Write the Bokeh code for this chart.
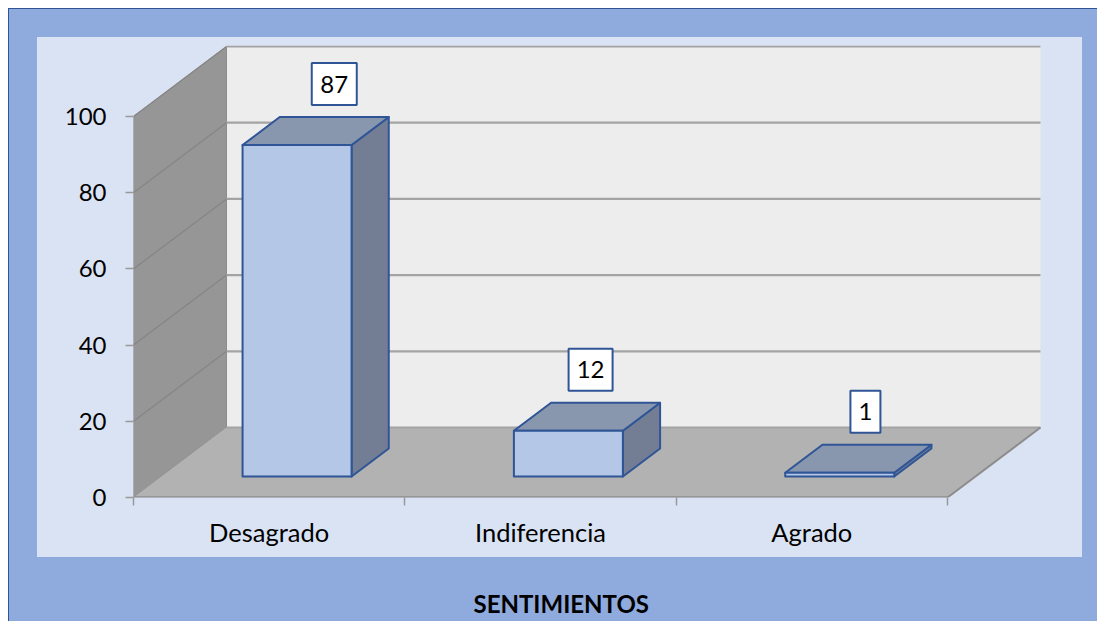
from bokeh.plotting import figure
from bokeh.models import LinearAxis, FixedTicker, Range1d, Title
from bokeh.core.properties import value
from bokeh.embed import file_html
from bokeh.resources import INLINE

categorias = ["Desagrado", "Indiferencia", "Agrado"]
valores = [87, 12, 1]
etiquetas = ["87", "12", "1"]
marcas_y = [0, 20, 40, 60, 80, 100]
titulo_eje = "SENTIMIENTOS"

FONT = "Lato"
PX_X, PX_Y = 271.33, 3.81          # px per category / per value unit
DX, DY = 93 / PX_X, 70 / PX_Y      # full floor depth in data units
GAP, DEPTH = 0.30, 0.40            # share of the floor depth before / inside the bar
BAR_W = 109 / PX_X
LBL_DX = [0, -15 / PX_X, -11.5 / PX_X]
LBL_DY = 33 / PX_Y
LBL_W = [45, 44, 30]


def capa(color, x, y, w, h):
    return f"linear-gradient({color},{color}) {x}px {y}px / {w}px {h}px no-repeat"


fondo = ", ".join([capa("#DAE3F3", 37, 37, 1045, 520),
                   capa("#8FAADC", 9, 9, 1088, 612),
                   capa("#2F5597", 8, 8, 1089, 613)]) + ", white"

p = figure(width=1097, height=621, frame_width=909, frame_height=452,
           output_backend="svg", toolbar_location=None,
           x_range=Range1d(0, 909 / PX_X), y_range=Range1d(0, 452 / PX_Y),
           x_axis_type=None, y_axis_type=None,
           min_border_left=133, min_border_right=55, min_border_top=45, min_border_bottom=124,
           background_fill_color=None, border_fill_color=None, outline_line_color=None,
           styles={"background": fondo})
p.grid.visible = False

nx = len(categorias)
ymax = marcas_y[-1]

# back wall, side wall, floor
p.patch([DX, nx + DX, nx + DX, DX], [DY, DY, DY + ymax, DY + ymax], fill_color="#EDEDED", line_color=None)
p.patch([0, DX, DX, 0], [0, DY, DY + ymax, ymax], fill_color="#969696", line_color="#8C8C8C", line_width=1)
p.patch([0, nx, nx + DX, DX], [0, 0, DY, DY], fill_color="#B2B2B2", line_color=None)

# gridlines
for v in marcas_y:
    if v > 0:
        p.line([0, DX], [v, v + DY], line_color="#858585", line_width=1.2)
    p.line([DX, nx + DX], [v + DY, v + DY], line_color="#A3A3A3", line_width=2.2)
p.line([0, nx], [0, 0], line_color="#8C8C8C", line_width=2.5)
p.line([nx, nx + DX], [0, DY], line_color="#8C8C8C", line_width=2)

# bars
EDGE = "#2F5597"
for i, v in enumerate(valores):
    x0 = i + 0.5 - BAR_W / 2 + GAP * DX
    x1 = x0 + BAR_W
    y0 = GAP * DY
    y1 = y0 + v
    ox, oy = DEPTH * DX, DEPTH * DY
    p.patch([x1, x1 + ox, x1 + ox, x1], [y0, y0 + oy, y1 + oy, y1], fill_color="#737E94",
            line_color=EDGE, line_width=2, line_join="round")
    p.patch([x0, x1, x1 + ox, x0 + ox], [y1, y1, y1 + oy, y1 + oy], fill_color="#8997AE",
            line_color=EDGE, line_width=2, line_join="round")
    p.patch([x0, x1, x1, x0], [y0, y0, y1, y1], fill_color="#B4C7E7",
            line_color=EDGE, line_width=2, line_join="round")
    cx = i + 0.5 + (GAP + DEPTH) * DX + LBL_DX[i]
    cy = y1 + oy + LBL_DY
    p.rect([cx], [cy], width=LBL_W[i], height=42, width_units="screen", height_units="screen",
           fill_color="white", line_color=EDGE, line_width=2)
    p.text([cx], [cy], text=[etiquetas[i]], text_font=value(FONT), text_font_size="24px", text_color="black",
           text_align="center", text_baseline="middle")

# axes
yax = LinearAxis(ticker=FixedTicker(ticks=marcas_y), axis_line_color=None, major_tick_line_color="#999999",
                 major_tick_in=0, major_tick_out=8, major_tick_line_width=1.5, minor_tick_line_color=None,
                 major_label_text_font=FONT, major_label_text_font_size="24px", major_label_text_color="black",
                 major_label_standoff=19)
p.add_layout(yax, "left")
xax = LinearAxis(ticker=FixedTicker(ticks=[i + 0.5 for i in range(nx)], minor_ticks=list(range(nx + 1))),
                 axis_line_color=None, major_tick_line_color=None, minor_tick_line_color="#999999",
                 minor_tick_in=0, minor_tick_out=8, minor_tick_line_width=1.5,
                 major_label_overrides={i + 0.5: c for i, c in enumerate(categorias)},
                 major_label_text_font=FONT, major_label_text_font_size="25.5px", major_label_text_color="black",
                 major_label_standoff=11)
p.add_layout(xax, "below")

p.add_layout(Title(text=titulo_eje, align="left", offset=340, standoff=74, text_font=FONT,
                   text_font_size="24px", text_font_style="bold", text_color="black"), "below")

open("out.html", "w").write(file_html(p, INLINE))
